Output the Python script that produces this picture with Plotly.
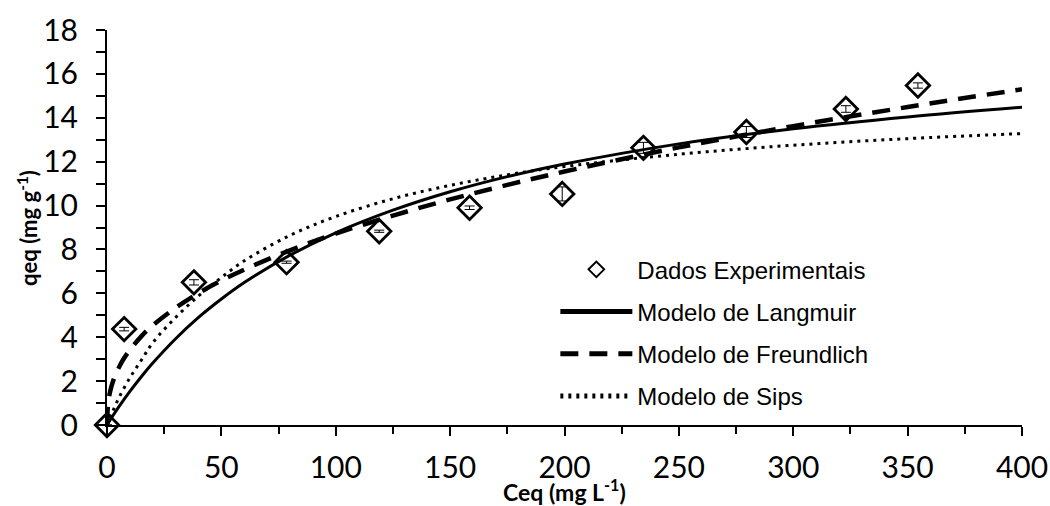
import plotly.graph_objects as go

# Experimental equilibrium data
ceq_exp = [0, 7.5, 38, 78.5, 119, 158.5, 199, 234.5, 279.5, 323, 354.5]
qeq_exp = [0, 4.37, 6.5, 7.42, 8.83, 9.9, 10.53, 12.63, 13.35, 14.4, 15.47]
qeq_err = [0, 0.08, 0.12, 0.05, 0.05, 0.08, 0.32, 0.25, 0.25, 0.15, 0.12]

# Fitted isotherm curves (mg L-1 -> mg g-1)
ceq_langmuir = [0, 2, 5, 10, 15, 20, 30, 40, 50, 60, 80, 100, 125, 150, 175, 200, 250, 300, 350, 400]
q_langmuir = [0, 0.33, 0.80, 1.53, 2.20, 2.82, 3.93, 4.90, 5.74, 6.49, 7.74, 8.76, 9.79, 10.63,
              11.32, 11.89, 12.81, 13.50, 14.04, 14.48]

ceq_freundlich = [0, 0.5, 1, 2, 3, 5, 7.5, 10, 15, 20, 30, 40, 50, 60, 80, 100, 125, 150, 175, 200,
                  250, 300, 350, 400]
q_freundlich = [0, 1.01, 1.34, 1.78, 2.10, 2.58, 3.05, 3.42, 4.04, 4.54, 5.34, 6.01, 6.58, 7.08,
                7.96, 8.72, 9.54, 10.28, 10.94, 11.55, 12.65, 13.62, 14.49, 15.30]

ceq_sips = [0, 2, 5, 10, 15, 20, 30, 40, 50, 60, 80, 100, 125, 150, 175, 200, 250, 300, 350, 400]
q_sips = [0, 0.50, 1.20, 2.15, 2.95, 3.75, 4.90, 5.88, 6.72, 7.48, 8.64, 9.50, 10.31, 10.92,
          11.40, 11.78, 12.34, 12.75, 13.05, 13.28]

x_ticks = [0, 50, 100, 150, 200, 250, 300, 350, 400]
y_ticks = [0, 2, 4, 6, 8, 10, 12, 14, 16, 18]

x_title = "<b>Ceq (mg L<sup>-1</sup>)</b>"
y_title = "<b>qeq (mg g<sup>-1</sup>)</b>"

fig = go.Figure()

fig.add_trace(go.Scatter(
    x=ceq_exp, y=qeq_exp, mode="markers", name="Dados Experimentais",
    legendgroup="a",
    marker=dict(symbol="diamond-open", size=18, color="black", line=dict(width=2.8, color="black")),
    error_y=dict(type="data", array=qeq_err, visible=True, color="black", thickness=1, width=5),
    cliponaxis=False,
))
fig.add_trace(go.Scatter(
    x=ceq_langmuir, y=q_langmuir, mode="lines", name="Modelo de Langmuir",
    legendgroup="b",
    line=dict(color="black", width=3, shape="spline"),
))
fig.add_trace(go.Scatter(
    x=ceq_freundlich, y=q_freundlich, mode="lines", name="Modelo de Freundlich",
    legendgroup="c",
    line=dict(color="black", width=4.5, dash="18px,11px", shape="spline"),
))
fig.add_trace(go.Scatter(
    x=ceq_sips, y=q_sips, mode="lines", name="Modelo de Sips",
    legendgroup="d",
    line=dict(color="black", width=3, dash="3px,5px", shape="spline"),
))

axis_common = dict(
    showline=True, linecolor="black", linewidth=2,
    ticks="outside", ticklen=9, tickwidth=1.5, tickcolor="black",
    showgrid=False, zeroline=False, automargin=False,
    tickfont=dict(family="Lato", size=30, color="black"),
)

fig.update_xaxes(
    range=[0, 400], tickvals=x_ticks, **axis_common,
    minor=dict(dtick=25, ticks="outside", ticklen=7, tickwidth=1.5, tickcolor="black"),
    ticklabelstandoff=6,
)
fig.update_yaxes(
    range=[0, 18], tickvals=y_ticks, **axis_common,
    minor=dict(dtick=1, ticks="outside", ticklen=9, tickwidth=1.5, tickcolor="black"),
    ticklabelstandoff=12,
)

# Axis titles
fig.add_annotation(text=x_title, xref="paper", yref="paper", x=0.5, y=-0.166,
                   xanchor="center", yanchor="middle", showarrow=False,
                   font=dict(family="Lato", size=23, color="black"))
fig.add_annotation(text=y_title, xref="paper", yref="paper", x=-0.087, y=0.5,
                   xanchor="center", yanchor="middle", showarrow=False, textangle=-90,
                   font=dict(family="Lato", size=22, color="black"))

fig.update_layout(
    width=1050, height=506, autosize=False,
    margin=dict(l=107, r=28, t=30, b=81),
    paper_bgcolor="white", plot_bgcolor="white",
    legend=dict(
        x=0.49, y=0.45, xanchor="left", yanchor="top",
        font=dict(family="Liberation Sans", size=24, color="black"),
        itemwidth=72, itemsizing="constant", tracegroupgap=8,
        bgcolor="rgba(0,0,0,0)", traceorder="grouped",
    ),
    showlegend=True,
)

fig.write_html("out.html")
